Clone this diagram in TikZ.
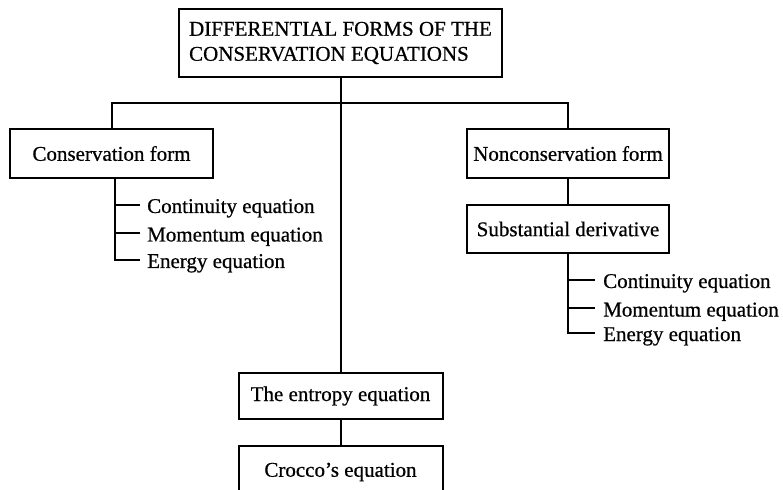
\documentclass[tikz,border=0pt]{standalone}
\usepackage{fontspec}
\setmainfont{Liberation Serif}[FakeBold=0.6]
\begin{document}
\begin{tikzpicture}[x=1bp,y=-1bp,
  every node/.style={font=\fontsize{21bp}{25bp}\selectfont},
  boxed/.style={draw,line width=2bp,inner sep=0pt,align=center},
  item/.style={anchor=base west,inner sep=0pt},
  link/.style={line width=2bp}]
\useasboundingbox (0,0) rectangle (783,490);
\clip (0,0) rectangle (783,490);
% boxes
\node[boxed,minimum width=323bp,minimum height=68bp,align=left] (top) at (340.5,43)
  {DIFFERENTIAL FORMS OF THE\\CONSERVATION EQUATIONS};
\node[boxed,minimum width=203bp,minimum height=49bp] (cons) at (111.5,153.5) {Conservation form};
\node[boxed,minimum width=202bp,minimum height=49bp] (noncons) at (568,153.5) {Nonconservation form};
\node[boxed,minimum width=202bp,minimum height=48bp] (subst) at (568,229) {Substantial derivative};
\node[boxed,minimum width=204bp,minimum height=46bp] (entropy) at (340.5,396) {The entropy equation};
\node[boxed,minimum width=204bp,minimum height=52bp] (crocco) at (340.5,472) {Crocco's equation};
% hub
\coordinate (hub) at (340.5,103);
\draw[link] (top.south) -- (entropy.north);
\draw[link] (cons.north) |- (hub) -| (noncons.north);
\draw[link] (noncons.south) -- (subst.north);
\draw[link] (entropy.south) -- (crocco.north);
% left list
\coordinate (lx) at (115,0);
\coordinate (lt1) at (140,205);
\coordinate (lt2) at (140,233);
\coordinate (lt3) at (140,260);
\node[item] (c1) at (147,213) {Continuity equation};
\node[item] (c2) at (147,241.5) {Momentum equation};
\node[item] (c3) at (147,268) {Energy equation};
\draw[link] (cons.south -| lx) |- (lt3);
\draw[link] (lt1 -| lx) -- (lt1);
\draw[link] (lt2 -| lx) -- (lt2);
% right list
\coordinate (rx) at (568,0);
\coordinate (rt1) at (595,280);
\coordinate (rt2) at (595,308);
\coordinate (rt3) at (595,333);
\node[item] (n1) at (603,288) {Continuity equation};
\node[item] (n2) at (603,316.5) {Momentum equation};
\node[item] (n3) at (603,341) {Energy equation};
\draw[link] (subst.south -| rx) |- (rt3);
\draw[link] (rt1 -| rx) -- (rt1);
\draw[link] (rt2 -| rx) -- (rt2);
\end{tikzpicture}
\end{document}
